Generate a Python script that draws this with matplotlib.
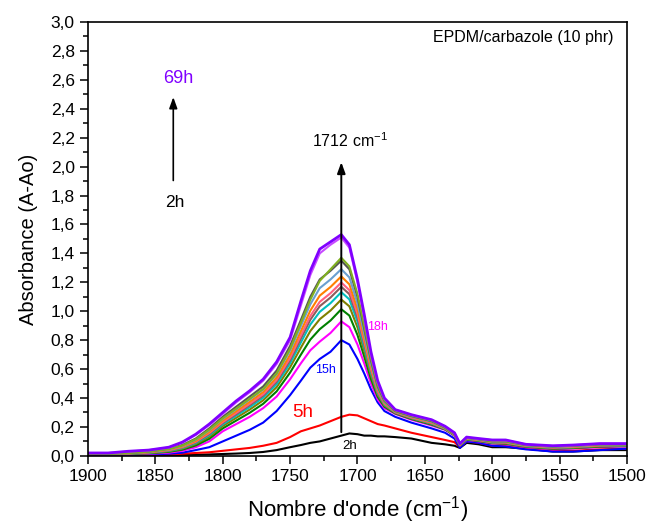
import matplotlib
matplotlib.use("Agg")
import matplotlib.pyplot as plt
from matplotlib.ticker import MultipleLocator, FuncFormatter

plt.rcParams['font.family'] = ['Liberation Sans', 'DejaVu Sans']
plt.rcParams['mathtext.fontset'] = 'custom'
plt.rcParams['mathtext.rm'] = 'Liberation Sans'
plt.rcParams['mathtext.default'] = 'regular'

# wavenumber grid (cm-1)
wn = [1900, 1885, 1870, 1855, 1840, 1830, 1820, 1810, 1800, 1790,
      1780, 1770, 1760, 1750, 1742, 1735, 1728, 1720, 1712, 1706,
      1700, 1695, 1690, 1685, 1680, 1672, 1660, 1645, 1635, 1628,
      1624, 1619, 1610, 1600, 1590, 1575, 1555, 1540, 1520, 1500]

# absorbance spectra, from 2h to 69h
a_2h = [0.01, 0.005, 0.005, 0.005, 0.005, 0.006, 0.008, 0.01, 0.013, 0.016,
        0.02, 0.027, 0.04, 0.06, 0.075, 0.09, 0.10, 0.12, 0.14, 0.155,
        0.15, 0.14, 0.14, 0.135, 0.135, 0.13, 0.12, 0.09, 0.08, 0.07,
        0.055, 0.09, 0.08, 0.06, 0.06, 0.05, 0.03, 0.03, 0.04, 0.04]
a_5h = [0.01, 0.005, 0.005, 0.007, 0.01, 0.015, 0.02, 0.025, 0.035, 0.045,
        0.055, 0.07, 0.09, 0.13, 0.17, 0.19, 0.21, 0.24, 0.27, 0.285,
        0.28, 0.26, 0.24, 0.22, 0.21, 0.19, 0.16, 0.13, 0.11, 0.095,
        0.06, 0.10, 0.09, 0.07, 0.07, 0.05, 0.035, 0.035, 0.045, 0.05]
a_15h = [0.01, 0.008, 0.008, 0.01, 0.015, 0.022, 0.04, 0.06, 0.10, 0.14,
         0.18, 0.23, 0.31, 0.42, 0.52, 0.61, 0.67, 0.72, 0.80, 0.77,
         0.67, 0.57, 0.46, 0.37, 0.31, 0.27, 0.23, 0.19, 0.16, 0.12,
         0.055, 0.10, 0.09, 0.07, 0.065, 0.045, 0.03, 0.03, 0.04, 0.05]
a_18h = [0.015, 0.01, 0.012, 0.015, 0.022, 0.035, 0.06, 0.10, 0.17, 0.22,
         0.27, 0.33, 0.41, 0.53, 0.64, 0.73, 0.79, 0.85, 0.93, 0.89,
         0.77, 0.64, 0.50, 0.39, 0.33, 0.29, 0.25, 0.21, 0.18, 0.14,
         0.07, 0.11, 0.10, 0.085, 0.08, 0.06, 0.045, 0.05, 0.06, 0.065]
a_green = [0.015, 0.011, 0.014, 0.018, 0.028, 0.043, 0.072, 0.118, 0.19, 0.244,
           0.298, 0.36, 0.446, 0.576, 0.70, 0.804, 0.876, 0.936, 1.014, 0.97,
           0.836, 0.688, 0.532, 0.408, 0.34, 0.294, 0.255, 0.216, 0.183, 0.142,
           0.072, 0.113, 0.103, 0.088, 0.084, 0.063, 0.049, 0.054, 0.064, 0.068]
a_olive = [0.015, 0.012, 0.015, 0.02, 0.032, 0.049, 0.082, 0.132, 0.206, 0.263,
           0.32, 0.384, 0.475, 0.613, 0.748, 0.863, 0.945, 1.005, 1.081, 1.034,
           0.889, 0.726, 0.558, 0.422, 0.348, 0.297, 0.259, 0.221, 0.185, 0.144,
           0.074, 0.115, 0.105, 0.09, 0.087, 0.065, 0.052, 0.057, 0.067, 0.07]
a_cyan = [0.015, 0.012, 0.016, 0.022, 0.035, 0.054, 0.089, 0.143, 0.218, 0.278,
          0.337, 0.402, 0.496, 0.64, 0.784, 0.908, 0.996, 1.056, 1.132, 1.082,
          0.928, 0.755, 0.577, 0.433, 0.354, 0.30, 0.262, 0.224, 0.187, 0.145,
          0.075, 0.117, 0.107, 0.092, 0.09, 0.067, 0.055, 0.06, 0.07, 0.072]
a_brown = [0.015, 0.013, 0.017, 0.024, 0.038, 0.058, 0.094, 0.151, 0.227, 0.288,
           0.35, 0.416, 0.513, 0.661, 0.811, 0.941, 1.035, 1.095, 1.169, 1.118,
           0.958, 0.777, 0.591, 0.441, 0.359, 0.301, 0.264, 0.227, 0.189, 0.146,
           0.076, 0.119, 0.109, 0.094, 0.091, 0.069, 0.056, 0.061, 0.071, 0.074]
a_pink = [0.015, 0.013, 0.017, 0.025, 0.04, 0.061, 0.098, 0.158, 0.234, 0.297,
          0.36, 0.426, 0.525, 0.677, 0.832, 0.967, 1.065, 1.125, 1.199, 1.146,
          0.981, 0.794, 0.602, 0.448, 0.362, 0.303, 0.266, 0.229, 0.19, 0.146,
          0.076, 0.12, 0.11, 0.095, 0.093, 0.07, 0.058, 0.063, 0.073, 0.075]
a_orange = [0.015, 0.014, 0.018, 0.026, 0.043, 0.065, 0.104, 0.167, 0.244, 0.309,
            0.374, 0.441, 0.543, 0.70, 0.862, 1.004, 1.108, 1.168, 1.241, 1.186,
            1.014, 0.818, 0.618, 0.457, 0.367, 0.305, 0.269, 0.232, 0.191, 0.147,
            0.077, 0.121, 0.111, 0.096, 0.095, 0.071, 0.06, 0.065, 0.075, 0.076]
a_ltblue = [0.015, 0.014, 0.019, 0.028, 0.046, 0.069, 0.112, 0.177, 0.256, 0.323,
            0.39, 0.459, 0.565, 0.728, 0.898, 1.048, 1.16, 1.22, 1.291, 1.234,
            1.054, 0.846, 0.638, 0.467, 0.373, 0.307, 0.272, 0.236, 0.193, 0.149,
            0.079, 0.123, 0.113, 0.098, 0.097, 0.073, 0.062, 0.067, 0.077, 0.078]
a_gray = [0.015, 0.015, 0.02, 0.03, 0.05, 0.075, 0.12, 0.19, 0.27, 0.34,
          0.41, 0.48, 0.59, 0.76, 0.94, 1.10, 1.22, 1.28, 1.35, 1.29,
          1.10, 0.88, 0.66, 0.48, 0.38, 0.31, 0.275, 0.24, 0.195, 0.15,
          0.08, 0.125, 0.115, 0.10, 0.10, 0.075, 0.065, 0.07, 0.08, 0.08]
a_ygreen = [0.015, 0.015, 0.02, 0.029, 0.048, 0.072, 0.115, 0.182, 0.26, 0.327,
            0.395, 0.462, 0.57, 0.74, 0.92, 1.08, 1.21, 1.29, 1.37, 1.31,
            1.12, 0.90, 0.675, 0.49, 0.385, 0.312, 0.278, 0.243, 0.197, 0.152,
            0.081, 0.126, 0.116, 0.101, 0.101, 0.076, 0.066, 0.071, 0.081, 0.081]
a_violet2 = [0.02, 0.02, 0.03, 0.039, 0.058, 0.092, 0.145, 0.213, 0.29, 0.37,
             0.44, 0.52, 0.635, 0.80, 1.04, 1.25, 1.40, 1.46, 1.51, 1.44,
             1.20, 0.96, 0.70, 0.51, 0.395, 0.318, 0.283, 0.248, 0.203, 0.158,
             0.084, 0.128, 0.118, 0.108, 0.108, 0.079, 0.069, 0.074, 0.084, 0.084]
a_69h = [0.02, 0.02, 0.032, 0.04, 0.06, 0.095, 0.15, 0.22, 0.30, 0.38,
         0.45, 0.53, 0.65, 0.82, 1.07, 1.28, 1.43, 1.48, 1.53, 1.46,
         1.22, 0.98, 0.72, 0.52, 0.40, 0.32, 0.285, 0.25, 0.205, 0.16,
         0.085, 0.13, 0.12, 0.11, 0.11, 0.08, 0.07, 0.075, 0.085, 0.085]

series = [a_2h, a_5h, a_15h, a_18h, a_green, a_olive, a_cyan, a_brown,
          a_pink, a_orange, a_ltblue, a_gray, a_ygreen, a_violet2, a_69h]
colors = ['black', '#ff0000', '#0000ff', '#ff00ff', '#008000', '#808000',
          '#00c0c0', '#8c5c5c', '#ff6080', '#ff7f00', '#6a9fd0', '#555555',
          '#80b020', '#c84bff', '#8000ff']

fig = plt.figure(figsize=(6.47, 5.24), dpi=100)
ax = fig.add_axes([0.136, 0.13, 0.833, 0.828])

for s, c in zip(series, colors):
    lw = 2.0 if c == '#8000ff' else 1.5
    ax.plot(wn, s, color=c, lw=lw)

ax.set_xlim(1900, 1500)
ax.set_ylim(0, 3.0)
ax.xaxis.set_major_locator(MultipleLocator(50))
ax.xaxis.set_minor_locator(MultipleLocator(25))
ax.yaxis.set_major_locator(MultipleLocator(0.2))
ax.yaxis.set_minor_locator(MultipleLocator(0.1))
ax.yaxis.set_major_formatter(FuncFormatter(lambda v, p: f"{v:.1f}".replace('.', ',')))
ax.tick_params(which='both', direction='out', top=False, right=False, labelsize=12.5, width=1.1)
ax.tick_params(which='major', length=6)
ax.tick_params(which='minor', length=3.5)
for sp in ax.spines.values():
    sp.set_linewidth(1.2)

ax.set_xlabel("Nombre d'onde (cm$^{-1}$)", fontsize=16, labelpad=7)
ax.set_ylabel("Absorbance (A-Ao)", fontsize=14.5, labelpad=9)

# annotations
ax.text(1510, 2.895, "EPDM/carbazole (10 phr)", ha='right', va='center', fontsize=11.5)
ax.annotate("", xy=(1836.7, 2.50), xytext=(1836.7, 1.885),
            arrowprops=dict(arrowstyle='-|>,head_length=0.55,head_width=0.2',
                            mutation_scale=12, lw=1.2, color='black'))
ax.text(1833.2, 2.61, "69h", color='#8000ff', ha='center', va='center', fontsize=13)
ax.text(1835.4, 1.75, "2h", ha='center', va='center', fontsize=12.5)
ax.annotate("", xy=(1712, 2.05), xytext=(1712, 0.145),
            arrowprops=dict(arrowstyle='-|>,head_length=0.55,head_width=0.2',
                            mutation_scale=12, lw=1.4, color='black'))
ax.text(1705.6, 2.18, "1712 cm$^{-1}$", ha='center', va='center', fontsize=11.5)
ax.text(1685.2, 0.888, "18h", color='#ff00ff', ha='center', va='center', fontsize=9)
ax.text(1723.5, 0.594, "15h", color='#0000ff', ha='center', va='center', fontsize=9)
ax.text(1740.4, 0.30, "5h", color='#ff0000', ha='center', va='center', fontsize=13.5)
ax.text(1705.6, 0.069, "2h", ha='center', va='center', fontsize=9.5)

fig.savefig("out.png", dpi=100)
